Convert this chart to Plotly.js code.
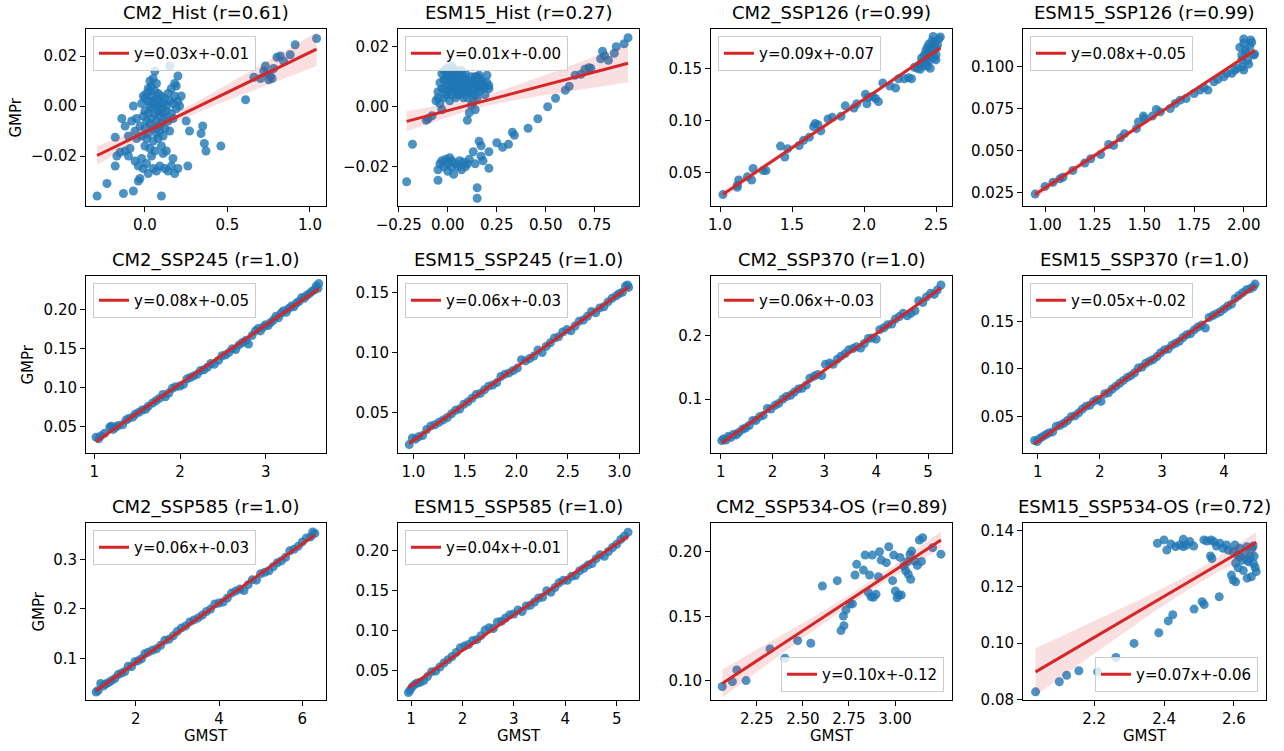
<!DOCTYPE html>
<html><head><meta charset="utf-8">
<script src="https://cdn.plot.ly/plotly-3.0.1.min.js"></script>
<style>html,body{margin:0;padding:0;background:#fff}#chart{width:1284px;height:751px}</style>
</head><body><div id="chart"></div>
<script>
// ---------------- DATA (GMST on x, GMPr on y) ----------------
const panelTitles = ["CM2_Hist (r=0.61)","ESM15_Hist (r=0.27)","CM2_SSP126 (r=0.99)","ESM15_SSP126 (r=0.99)",
  "CM2_SSP245 (r=1.0)","ESM15_SSP245 (r=1.0)","CM2_SSP370 (r=1.0)","ESM15_SSP370 (r=1.0)",
  "CM2_SSP585 (r=1.0)","ESM15_SSP585 (r=1.0)","CM2_SSP534-OS (r=0.89)","ESM15_SSP534-OS (r=0.72)"];
const fitLabels = ["y=0.03x+-0.01","y=0.01x+-0.00","y=0.09x+-0.07","y=0.08x+-0.05",
  "y=0.08x+-0.05","y=0.06x+-0.03","y=0.06x+-0.03","y=0.05x+-0.02",
  "y=0.06x+-0.03","y=0.04x+-0.01","y=0.10x+-0.12","y=0.07x+-0.06"];
const xAxisLabel = "GMST";
const yAxisLabel = "GMPr";

const cm2HistGmst = [-0.29,-0.23,-0.18,-0.18,-0.17,-0.15,-0.14,-0.13,-0.12,-0.12,-0.10,-0.10,-0.09,-0.08,-0.07,-0.07,-0.06,-0.06,-0.05,-0.05,-0.04,-0.04,-0.03,-0.03,-0.02,-0.02,-0.02,-0.01,-0.01,-0.01,
 0.00,0.00,0.00,0.00,0.01,0.01,0.01,0.01,0.02,0.02,0.02,0.02,0.02,0.03,0.03,0.03,0.03,0.03,0.04,0.04,0.04,0.04,0.04,0.05,0.05,0.05,0.05,0.05,
 0.06,0.06,0.06,0.06,0.06,0.07,0.07,0.07,0.07,0.07,0.08,0.08,0.08,0.08,0.08,0.09,0.09,0.09,0.09,0.10,0.10,0.10,0.10,0.10,
 0.11,0.11,0.11,0.11,0.12,0.12,0.12,0.12,0.13,0.13,0.13,0.14,0.14,0.14,0.15,0.15,0.15,0.16,0.16,0.16,0.17,0.17,0.17,0.18,0.18,0.18,0.19,0.19,0.20,0.20,0.20,0.21,0.22,
 0.25,0.26,0.27,0.34,0.35,0.36,0.37,0.46,0.61,0.66,0.70,0.72,0.73,0.74,0.75,0.76,0.77,0.78,0.80,0.82,0.84,0.88,0.91,1.04];
const cm2HistGmpr = [-0.036,-0.031,-0.0125,-0.024,-0.020,-0.0185,-0.005,-0.035,-0.008,-0.018,-0.012,-0.020,-0.017,-0.006,-0.034,0.000,-0.010,-0.022,-0.005,-0.013,-0.030,-0.024,-0.029,-0.008,0.001,-0.012,-0.021,-0.004,0.004,-0.025,
 -0.002,0.003,-0.009,-0.016,0.005,-0.006,-0.013,-0.023,0.002,-0.003,0.007,-0.011,-0.027,0.000,0.006,-0.007,-0.017,0.010,-0.001,0.004,-0.005,-0.020,0.008,0.002,-0.009,0.011,-0.014,-0.025,
 0.001,-0.003,0.006,0.014,-0.018,-0.006,0.003,0.009,-0.011,-0.026,0.000,-0.002,0.005,-0.008,-0.013,0.002,-0.004,-0.010,-0.024,-0.001,0.004,-0.007,-0.016,-0.036,
 -0.003,0.001,-0.012,-0.019,-0.005,0.003,-0.025,-0.009,0.000,-0.018,-0.002,0.005,-0.006,-0.026,0.016,0.002,-0.010,0.007,-0.003,-0.024,0.001,-0.005,-0.021,0.004,0.009,-0.027,0.008,-0.001,0.012,0.002,-0.025,0.000,0.004,
 -0.006,-0.024,-0.010,-0.011,-0.008,-0.015,-0.018,-0.016,0.0025,0.0115,0.011,0.014,0.016,0.013,0.0105,0.012,0.011,0.015,0.0195,0.020,0.018,0.0205,0.0245,0.027];

const esm15HistGmst = [-0.21,-0.18,-0.11,-0.10,-0.08,-0.05,-0.04,-0.03,-0.03,-0.02,-0.02,-0.01,-0.01,0.00,0.00,0.00,0.01,0.01,0.01,0.02,0.02,0.02,0.03,0.03,0.03,0.04,0.04,0.05,0.05,0.06,0.06,0.07,0.07,0.08,0.08,0.09,0.10,0.10,0.11,0.12,0.12,0.13,0.13,0.14,0.14,0.15,0.15,0.16,0.16,0.17,0.18,0.19,0.20,0.21,0.21,
 -0.06,-0.05,-0.04,-0.03,-0.02,-0.01,0.00,0.01,0.02,0.03,0.04,0.05,0.06,0.07,0.08,0.09,0.10,0.11,0.12,0.13,0.14,0.15,0.16,0.17,0.18,0.19,0.20,
 -0.02,0.00,0.02,0.04,0.06,0.08,0.10,0.12,0.14,0.16,0.18,0.01,0.03,0.05,0.07,0.09,0.11,0.15,
 -0.05,-0.05,-0.04,-0.03,-0.02,-0.01,0.00,0.00,0.01,0.02,0.02,0.03,0.04,0.05,0.06,0.07,0.08,0.09,0.10,0.11,0.13,0.14,0.15,0.15,0.16,0.17,0.17,0.18,0.21,0.21,0.25,0.28,0.31,0.33,0.34,0.41,0.46,0.51,0.55,0.60,0.62,0.65,0.68,0.70,0.72,0.73,0.78,0.79,0.80,0.82,0.85,0.86,0.90,0.92];
const esm15HistGmpr = [-0.025,-0.0125,-0.0045,-0.004,-0.003,0.003,0.001,-0.001,0.006,0.009,0.012,0.004,0.0125,0.007,0.010,0.013,0.002,0.011,0.006,0.012,0.0135,0.008,0.005,0.010,0.0125,0.003,0.007,0.0115,0.009,0.006,0.004,0.012,0.008,0.003,0.010,0.009,0.006,-0.0045,-0.002,0.0005,0.004,0.008,0.0015,0.010,-0.001,0.006,0.003,0.009,0.0105,0.007,0.008,0.0065,0.0105,0.006,0.007,
 0.002,0.005,0.008,0.011,0.006,0.009,0.011,0.008,0.010,0.007,0.012,0.006,0.010,0.005,0.007,0.011,0.008,0.005,0.007,0.009,0.006,0.008,0.005,0.009,0.007,0.004,0.008,
 0.003,0.005,0.004,0.010,0.012,0.006,0.003,0.010,0.004,0.007,0.006,0.013,0.009,0.004,0.010,0.005,0.008,0.010,
 -0.021,-0.0245,-0.019,-0.018,-0.020,-0.0175,-0.019,-0.0215,-0.017,-0.020,-0.018,-0.0225,-0.019,-0.020,-0.018,-0.021,-0.0185,-0.020,-0.019,-0.0175,-0.015,-0.019,-0.027,-0.0305,-0.0115,-0.013,-0.0165,-0.018,-0.0205,-0.015,-0.012,-0.0135,-0.0125,-0.0085,-0.0095,-0.0072,-0.004,0.000,0.0028,0.0055,0.0068,0.0105,0.0108,0.0125,0.013,0.0128,0.016,0.0185,0.017,0.0155,0.0178,0.0200,0.021,0.023];

const cm2Ssp126Gmst = [1.02,1.12,1.13,1.12,1.19,1.22,1.23,1.30,1.32,1.42,1.45,1.47,1.55,1.58,1.62,1.65,1.66,1.68,1.70,1.75,1.78,1.84,1.87,1.93,1.95,2.01,2.02,2.03,2.06,2.08,2.10,2.13,2.18,2.22,2.24,2.28,2.31,2.33,2.35,2.37,2.38,2.39,2.40,2.40,2.41,2.42,2.42,2.43,2.43,2.44,2.44,2.45,2.45,2.46,2.46,2.47,2.47,2.48,2.48,2.49,2.49,2.50,2.50,2.51,2.48,2.53,2.46,2.44,2.50,2.52];
const cm2Ssp126Gmpr = [0.029,0.038,0.043,0.036,0.046,0.043,0.054,0.052,0.052,0.0755,0.065,0.073,0.076,0.081,0.084,0.094,0.097,0.096,0.090,0.1015,0.103,0.104,0.114,0.112,0.116,0.125,0.116,0.122,0.123,0.121,0.118,0.136,0.133,0.131,0.140,0.140,0.141,0.140,0.151,0.150,0.153,0.149,0.156,0.160,0.152,0.163,0.157,0.167,0.155,0.170,0.160,0.173,0.164,0.158,0.168,0.176,0.162,0.171,0.166,0.160,0.175,0.169,0.163,0.172,0.1805,0.180,0.150,0.152,0.158,0.178];

const esm15Ssp126Gmst = [0.95,1.00,1.04,1.075,1.09,1.14,1.20,1.23,1.28,1.32,1.345,1.38,1.40,1.46,1.47,1.495,1.50,1.54,1.56,1.58,1.63,1.655,1.68,1.71,1.75,1.78,1.80,1.82,1.85,1.87,1.90,1.915,1.94,1.955,1.97,1.99,2.00,1.98,2.00,1.99,2.01,2.02,2.03,2.04,2.05,2.055,2.025,2.00,1.995,2.01,2.035];
const esm15Ssp126Gmpr = [0.0239,0.0285,0.031,0.033,0.034,0.038,0.0425,0.045,0.0475,0.0535,0.053,0.0575,0.060,0.063,0.067,0.0705,0.069,0.0705,0.0745,0.073,0.075,0.078,0.080,0.081,0.084,0.086,0.0875,0.086,0.091,0.0925,0.094,0.096,0.096,0.098,0.099,0.104,0.098,0.1115,0.114,0.107,0.110,0.104,0.112,0.1145,0.107,0.1075,0.1015,0.1165,0.100,0.108,0.116];

const cm2Ssp245Gmst = [1.02,1.05,1.08,1.12,1.18,1.20,1.22,1.25,1.28,1.33,1.37,1.40,1.45,1.48,1.52,1.56,1.60,1.63,1.68,1.72,1.76,1.80,1.83,1.87,1.91,1.95,2.00,2.04,2.08,2.12,2.16,2.20,2.24,2.28,2.32,2.36,2.40,2.45,2.49,2.53,2.57,2.61,2.65,2.69,2.73,2.77,2.80,2.84,2.88,2.91,2.94,2.97,3.00,3.03,3.06,3.09,3.12,3.15,3.18,3.21,3.24,3.27,3.30,3.33,3.36,3.39,3.42,3.45,3.48,3.51,3.54,3.57,3.59,3.61,3.62];
const cm2Ssp245Gmpr = [0.036,0.034,0.038,0.041,0.049,0.050,0.046,0.049,0.051,0.052,0.058,0.060,0.062,0.066,0.068,0.071,0.072,0.076,0.080,0.083,0.086,0.091,0.088,0.093,0.099,0.101,0.102,0.104,0.111,0.113,0.115,0.117,0.122,0.123,0.126,0.131,0.130,0.135,0.141,0.142,0.145,0.150,0.149,0.155,0.158,0.161,0.156,0.167,0.173,0.176,0.173,0.178,0.181,0.180,0.184,0.187,0.192,0.190,0.196,0.199,0.197,0.202,0.205,0.204,0.209,0.211,0.216,0.215,0.219,0.221,0.224,0.226,0.231,0.228,0.234];

const esm15Ssp245Gmst = [0.96,0.99,1.02,1.05,1.09,1.13,1.17,1.21,1.25,1.29,1.33,1.37,1.41,1.45,1.49,1.53,1.57,1.61,1.65,1.69,1.73,1.77,1.81,1.85,1.89,1.93,1.97,2.01,2.05,2.09,2.13,2.17,2.21,2.25,2.29,2.33,2.37,2.41,2.45,2.49,2.53,2.57,2.61,2.65,2.69,2.73,2.77,2.81,2.85,2.89,2.93,2.97,3.00,3.03,3.06,3.08,3.09];
const esm15Ssp245Gmpr = [0.0235,0.029,0.028,0.030,0.031,0.036,0.039,0.040,0.042,0.044,0.046,0.049,0.052,0.053,0.057,0.059,0.062,0.065,0.066,0.069,0.072,0.073,0.075,0.080,0.082,0.083,0.085,0.087,0.094,0.093,0.095,0.097,0.102,0.100,0.105,0.108,0.112,0.113,0.117,0.119,0.118,0.122,0.126,0.127,0.130,0.134,0.133,0.137,0.138,0.142,0.145,0.147,0.149,0.150,0.155,0.156,0.154];

const cm2Ssp370Gmst = [1.02,1.06,1.10,1.15,1.20,1.25,1.30,1.35,1.42,1.48,1.55,1.62,1.68,1.75,1.82,1.90,1.97,2.05,2.12,2.20,2.27,2.35,2.42,2.50,2.57,2.65,2.72,2.80,2.87,2.95,3.02,3.10,3.17,3.25,3.32,3.40,3.47,3.55,3.62,3.70,3.77,3.85,3.92,4.00,4.07,4.15,4.22,4.30,4.37,4.45,4.52,4.60,4.67,4.75,4.82,4.90,4.97,5.05,5.12,5.18,5.25];
const cm2Ssp370Gmpr = [0.034,0.037,0.035,0.041,0.039,0.044,0.043,0.047,0.052,0.054,0.058,0.066,0.066,0.072,0.074,0.085,0.084,0.090,0.093,0.100,0.104,0.106,0.111,0.116,0.117,0.122,0.133,0.136,0.139,0.137,0.155,0.157,0.155,0.163,0.168,0.172,0.178,0.180,0.183,0.181,0.188,0.196,0.197,0.195,0.210,0.213,0.218,0.219,0.227,0.231,0.236,0.232,0.236,0.240,0.256,0.253,0.262,0.268,0.266,0.273,0.281];

const esm15Ssp370Gmst = [0.95,0.99,1.03,1.08,1.13,1.18,1.24,1.30,1.36,1.42,1.48,1.54,1.60,1.66,1.72,1.78,1.84,1.90,1.96,2.02,2.08,2.14,2.20,2.26,2.32,2.38,2.44,2.50,2.56,2.62,2.68,2.74,2.80,2.86,2.92,2.98,3.04,3.10,3.16,3.22,3.28,3.34,3.40,3.46,3.52,3.58,3.64,3.70,3.76,3.82,3.88,3.94,4.00,4.06,4.12,4.18,4.24,4.30,4.36,4.42,4.47,4.50];
const esm15Ssp370Gmpr = [0.025,0.024,0.027,0.029,0.031,0.033,0.034,0.040,0.041,0.043,0.046,0.050,0.051,0.054,0.058,0.061,0.062,0.066,0.068,0.066,0.074,0.075,0.079,0.082,0.085,0.088,0.091,0.093,0.096,0.101,0.102,0.106,0.108,0.110,0.113,0.117,0.120,0.121,0.125,0.127,0.129,0.133,0.136,0.137,0.141,0.144,0.146,0.143,0.154,0.156,0.158,0.160,0.163,0.166,0.168,0.174,0.177,0.180,0.183,0.184,0.186,0.189];

const cm2Ssp585Gmst = [1.05,1.10,1.16,1.22,1.28,1.35,1.42,1.50,1.58,1.66,1.74,1.82,1.90,1.98,2.06,2.14,2.22,2.30,2.40,2.50,2.60,2.70,2.80,2.90,3.00,3.10,3.20,3.30,3.40,3.50,3.60,3.70,3.80,3.90,4.00,4.10,4.20,4.30,4.40,4.50,4.60,4.70,4.80,4.90,5.00,5.10,5.20,5.30,5.40,5.50,5.60,5.70,5.80,5.90,6.00,6.10,6.20,6.25,6.30];
const cm2Ssp585Gmpr = [0.033,0.036,0.050,0.045,0.049,0.052,0.056,0.060,0.068,0.071,0.074,0.085,0.084,0.094,0.096,0.100,0.110,0.113,0.117,0.120,0.127,0.137,0.139,0.146,0.155,0.162,0.166,0.174,0.178,0.182,0.188,0.195,0.200,0.210,0.212,0.214,0.222,0.232,0.236,0.240,0.237,0.249,0.259,0.258,0.271,0.274,0.277,0.285,0.293,0.297,0.304,0.317,0.320,0.326,0.335,0.343,0.345,0.355,0.352];

const esm15Ssp585Gmst = [0.95,0.98,1.02,1.07,1.12,1.18,1.25,1.32,1.40,1.48,1.56,1.64,1.72,1.80,1.88,1.96,2.04,2.12,2.20,2.28,2.36,2.44,2.52,2.60,2.68,2.76,2.84,2.92,3.00,3.08,3.16,3.24,3.32,3.40,3.48,3.56,3.64,3.72,3.80,3.88,3.96,4.04,4.12,4.20,4.28,4.36,4.44,4.52,4.60,4.68,4.76,4.84,4.92,5.00,5.08,5.15,5.22];
const esm15Ssp585Gmpr = [0.023,0.026,0.030,0.033,0.035,0.036,0.038,0.043,0.049,0.050,0.055,0.060,0.064,0.068,0.073,0.079,0.081,0.083,0.088,0.089,0.094,0.101,0.104,0.103,0.111,0.112,0.116,0.120,0.121,0.126,0.124,0.131,0.132,0.136,0.141,0.142,0.150,0.148,0.154,0.160,0.163,0.163,0.168,0.169,0.175,0.178,0.182,0.184,0.190,0.195,0.193,0.199,0.204,0.208,0.214,0.218,0.223];

const cm2Ssp534Gmst = [2.063,2.118,2.142,2.192,2.322,2.403,2.472,2.543,2.606,2.687,2.707,2.723,2.720,2.734,2.756,2.769,2.783,2.792,2.829,2.838,2.862,2.856,2.870,2.877,2.883,2.897,2.910,2.916,2.925,2.953,2.966,2.987,2.993,3.002,3.011,3.020,3.027,3.034,3.048,3.058,3.067,3.072,3.081,3.085,3.090,3.107,3.121,3.143,3.132,3.150,3.204,3.249];
const cm2Ssp534Gmpr = [0.0957,0.0995,0.1086,0.1003,0.1248,0.1176,0.1312,0.1292,0.1735,0.1776,0.1390,0.1428,0.1503,0.1550,0.1596,0.1596,0.1820,0.1902,0.1858,0.1974,0.1820,0.1683,0.1652,0.1974,0.1647,0.1670,0.1807,0.2000,0.1935,0.1915,0.2038,0.1776,0.1974,0.1696,0.1644,0.1665,0.1956,0.1665,0.1889,0.1853,0.1922,0.1825,0.1979,0.1786,0.2005,0.1927,0.1894,0.1925,0.2090,0.2108,0.2031,0.1981];

const esm15Ssp534Gmst = [2.032,2.100,2.121,2.156,2.210,2.262,2.314,2.385,2.412,2.425,2.486,2.509,2.515,2.558,
 2.381,2.400,2.408,2.420,2.433,2.445,2.455,2.455,2.464,2.474,2.485,2.514,2.523,2.533,2.535,2.542,2.537,2.550,2.560,2.569,2.579,2.584,2.598,2.603,2.610,2.617,2.625,2.632,2.637,2.642,2.647,2.652,2.655,2.656,2.661,2.664,2.658,2.650,2.638,2.627,2.612,2.605,2.593,2.598,2.605,2.638,2.617];
const esm15Ssp534Gmpr = [0.0827,0.0863,0.0886,0.0902,0.0898,0.0949,0.0999,0.1037,0.1079,0.1101,0.1121,0.1147,0.1137,0.1165,
 0.1355,0.1367,0.1331,0.1352,0.1343,0.1349,0.1343,0.1369,0.1349,0.1361,0.1345,0.1367,0.1363,0.1310,0.1367,0.1361,0.1301,0.1345,0.1355,0.1337,0.1349,0.1331,0.1325,0.1349,0.1313,0.1337,0.1295,0.1322,0.1343,0.1289,0.1309,0.1337,0.1345,0.1283,0.1269,0.1254,0.1309,0.1236,0.1231,0.1258,0.1268,0.1285,0.1242,0.1224,0.1218,0.1296,0.1307];

const panelX = [cm2HistGmst, esm15HistGmst, cm2Ssp126Gmst, esm15Ssp126Gmst, cm2Ssp245Gmst, esm15Ssp245Gmst,
  cm2Ssp370Gmst, esm15Ssp370Gmst, cm2Ssp585Gmst, esm15Ssp585Gmst, cm2Ssp534Gmst, esm15Ssp534Gmst];
const panelY = [cm2HistGmpr, esm15HistGmpr, cm2Ssp126Gmpr, esm15Ssp126Gmpr, cm2Ssp245Gmpr, esm15Ssp245Gmpr,
  cm2Ssp370Gmpr, esm15Ssp370Gmpr, cm2Ssp585Gmpr, esm15Ssp585Gmpr, cm2Ssp534Gmpr, esm15Ssp534Gmpr];

// tick values that are shown when the automatic set would differ from the reference
const xTickVals = [null,null,null,null,null,null,null,null,null,null,[2.25,2.5,2.75,3.0],[2.2,2.4,2.6]];
const yTickVals = [[-0.02,0,0.02],null,null,null,null,null,null,null,null,null,null,null];

// ---------------- LAYOUT / STYLE ----------------
const W = 1284, H = 751;
const colLeft = [86, 398, 711, 1023], colRight = [326, 639, 952, 1266];
const rowTop = [29, 276, 523], rowBottom = [206, 453, 700];
const xRanges = [[-0.357,1.097],[-0.254,0.976],[0.9375,2.611],[0.889,2.112],[0.903,3.704],[0.851,3.191],
  [0.813,5.463],[0.763,4.676],[0.807,6.569],[0.747,5.434],[2.002,3.309],[1.996,2.692]];
const yRanges = [[-0.0400,0.0308],[-0.0331,0.0259],[0.0181,0.1876],[0.0168,0.1225],[0.0156,0.2438],[0.0165,0.1635],
  [0.0143,0.2952],[0.0119,0.1975],[0.0169,0.373],[0.0138,0.2345],[0.0853,0.2222],[0.0798,0.1427]];
const xTickFmt = ['.1f','.2f','.1f','.2f','d','.1f','d','d','d','d','.2f','.1f'];
const xDtick = [0.5,0.25,0.5,0.25,1,0.5,1,1,2,1,0.25,0.2];
const yTickFmt = ['.2f','.2f','.2f','.3f','.2f','.2f','.1f','.2f','.1f','.2f','.2f','.2f'];
const yDtick = [0.02,0.02,0.05,0.025,0.05,0.05,0.1,0.05,0.1,0.05,0.05,0.02];
const legendAtLowerRight = [false,false,false,false,false,false,false,false,false,false,true,true];
const yLabelPx = [16, 27, 38];

const FONT = 'DejaVu Sans';
const BLUE = '#1f77b4', RED = '#d62728';

function regress(x, y) {
  const n = Math.min(x.length, y.length);
  let mx = 0, my = 0;
  for (let i = 0; i < n; i++) { mx += x[i]; my += y[i]; }
  mx /= n; my /= n;
  let sxx = 0, sxy = 0;
  for (let i = 0; i < n; i++) { sxx += (x[i]-mx)**2; sxy += (x[i]-mx)*(y[i]-my); }
  const b = sxy / sxx, a = my - b*mx;
  let sse = 0;
  for (let i = 0; i < n; i++) sse += (y[i] - a - b*x[i])**2;
  const s2 = sse / (n - 2);
  let xmin = Infinity, xmax = -Infinity;
  for (let i = 0; i < n; i++) { xmin = Math.min(xmin, x[i]); xmax = Math.max(xmax, x[i]); }
  const gx = [], gy = [], lo = [], hi = [];
  const m = 100;
  for (let k = 0; k < m; k++) {
    const xv = xmin + (xmax - xmin) * k / (m - 1);
    const yv = a + b * xv;
    const se = Math.sqrt(s2 * (1/n + (xv-mx)**2 / sxx));
    gx.push(xv); gy.push(yv); lo.push(yv - 1.98*se); hi.push(yv + 1.98*se);
  }
  return {gx, gy, lo, hi, n};
}

const traces = [];
const layout = {
  width: W, height: H, margin: {l:0, r:0, t:0, b:0},
  paper_bgcolor: '#fff', plot_bgcolor: '#fff',
  font: {family: FONT, size: 15, color: '#000'},
  showlegend: true, hovermode: false,
  annotations: []
};

for (let i = 0; i < 12; i++) {
  const r = Math.floor(i / 4), c = i % 4;
  const sfx = i === 0 ? '' : String(i + 1);
  const xa = 'x' + sfx, ya = 'y' + sfx;
  const legName = 'legend' + sfx;
  const x0 = colLeft[c] / W, x1 = colRight[c] / W;
  const y0 = 1 - rowBottom[r] / H, y1 = 1 - rowTop[r] / H;

  const axisCommon = {
    showgrid: false, zeroline: false, showline: true, mirror: true,
    linecolor: '#000', linewidth: 1, ticks: 'outside', ticklen: 5, tickwidth: 1, tickcolor: '#000',
    tickfont: {family: FONT, size: 15, color: '#000'}, tick0: 0, fixedrange: true
  };
  const xaxis = Object.assign({}, axisCommon, {
    domain: [x0, x1], anchor: ya, range: xRanges[i], dtick: xDtick[i], tickformat: xTickFmt[i]
  });
  if (xTickVals[i]) { xaxis.tickmode = 'array'; xaxis.tickvals = xTickVals[i]; }
  const yaxis = Object.assign({}, axisCommon, {
    domain: [y0, y1], anchor: xa, range: yRanges[i], dtick: yDtick[i], tickformat: yTickFmt[i]
  });
  if (yTickVals[i]) { yaxis.tickmode = 'array'; yaxis.tickvals = yTickVals[i]; }
  layout['xaxis' + sfx] = xaxis;
  layout['yaxis' + sfx] = yaxis;

  const px = panelX[i], py = panelY[i];
  const n = Math.min(px.length, py.length);
  const fit = regress(px, py);

  traces.push({
    type: 'scatter', mode: 'markers', x: px.slice(0, n), y: py.slice(0, n), xaxis: xa, yaxis: ya,
    marker: {color: BLUE, size: 9, opacity: 0.8, line: {width: 0}},
    showlegend: false, hoverinfo: 'skip'
  });
  traces.push({
    type: 'scatter', mode: 'lines', x: fit.gx.concat(fit.gx.slice().reverse()),
    y: fit.hi.concat(fit.lo.slice().reverse()), xaxis: xa, yaxis: ya,
    fill: 'toself', fillcolor: 'rgba(214,39,40,0.15)', line: {width: 0, color: 'rgba(0,0,0,0)'},
    showlegend: false, hoverinfo: 'skip'
  });
  traces.push({
    type: 'scatter', mode: 'lines', x: fit.gx, y: fit.gy, xaxis: xa, yaxis: ya,
    line: {color: RED, width: 3}, name: fitLabels[i], legend: legName, showlegend: true
  });

  const leg = {
    bgcolor: 'rgba(255,255,255,0.8)', bordercolor: '#cccccc', borderwidth: 1,
    font: {family: FONT, size: 15, color: '#000'}, xref: 'paper', yref: 'paper',
    itemwidth: 30, tracegroupgap: 0
  };
  if (legendAtLowerRight[i]) {
    Object.assign(leg, {x: (colRight[c] - 8) / W, xanchor: 'right', y: 1 - (rowBottom[r] - 8) / H, yanchor: 'bottom'});
  } else {
    Object.assign(leg, {x: (colLeft[c] + 7) / W, xanchor: 'left', y: 1 - (rowTop[r] + 7) / H, yanchor: 'top'});
  }
  layout[legName] = leg;

  layout.annotations.push({
    text: panelTitles[i], xref: 'paper', yref: 'paper', x: (x0 + x1) / 2, y: y1,
    xanchor: 'center', yanchor: 'bottom', yshift: 3, showarrow: false,
    font: {family: FONT, size: 18, color: '#000'}
  });
  if (c === 0) {
    layout.annotations.push({
      text: yAxisLabel, xref: 'paper', yref: 'paper', x: yLabelPx[r] / W, y: (y0 + y1) / 2,
      xanchor: 'center', yanchor: 'middle', textangle: -90, showarrow: false,
      font: {family: FONT, size: 15, color: '#000'}
    });
  }
  if (r === 2) {
    layout.annotations.push({
      text: xAxisLabel, xref: 'paper', yref: 'paper', x: (x0 + x1) / 2, y: 1 - 736 / H,
      xanchor: 'center', yanchor: 'middle', showarrow: false,
      font: {family: FONT, size: 15, color: '#000'}
    });
  }
}

Plotly.newPlot('chart', traces, layout, {staticPlot: true, displayModeBar: false});
</script>
</body></html>
